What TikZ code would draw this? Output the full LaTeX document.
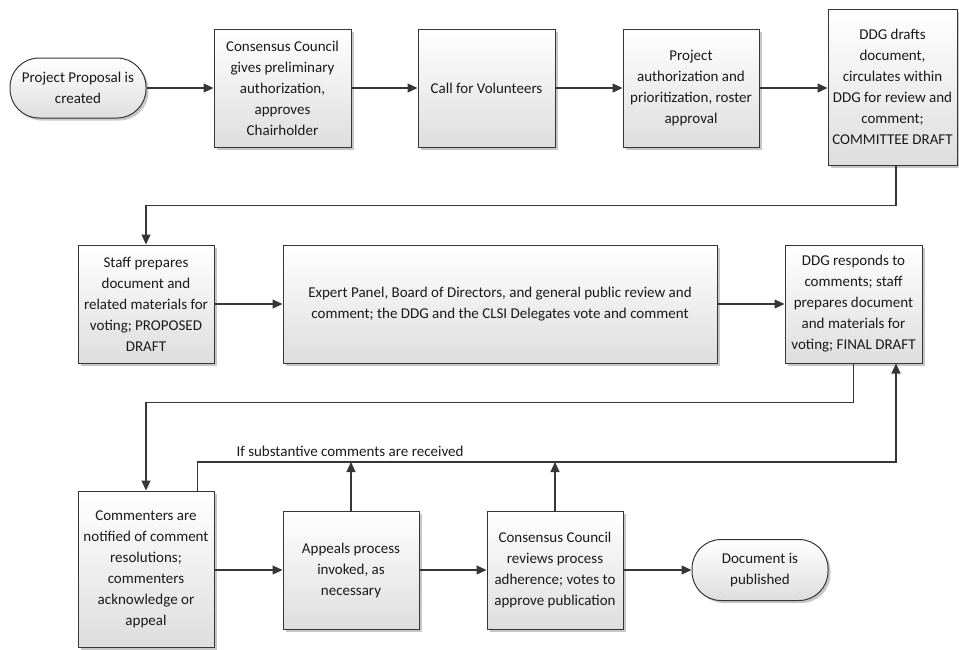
\documentclass[tikz,border=0pt]{standalone}
\usepackage{fontspec}
\setmainfont{Carlito}
\usetikzlibrary{arrows.meta,shadows,calc}
\definecolor{edge}{HTML}{363636}
\definecolor{ink}{HTML}{1A1A1A}
\begin{document}
\begin{tikzpicture}[x=1pt,y=-1pt,
  base/.style={draw=edge,line width=1pt,top color=white,bottom color=black!13,
    align=center,text=ink,font=\fontsize{15}{21}\selectfont,inner sep=2pt,
    drop shadow={shadow xshift=2.5pt,shadow yshift=-2.5pt,fill=black,opacity=0.22}},
  procbox/.style={base,rectangle},
  termbox/.style={base,rectangle,rounded corners=29pt},
  arr/.style={draw=edge,line width=1.2pt,-{Triangle[length=10pt,width=9pt]}}]
\useasboundingbox (0,0) rectangle (959,649);
% row 1
\node[termbox,minimum width=136pt,minimum height=60pt] (start) at (78,88) {Project Proposal is\\created};
\node[procbox,minimum width=137pt,minimum height=118pt] (cc1) at (282.5,88) {Consensus Council\\gives preliminary\\authorization,\\approves\\Chairholder};
\node[procbox,minimum width=137pt,minimum height=118pt] (cfv) at (486.5,88) {Call for Volunteers};
\node[procbox,minimum width=136pt,minimum height=118pt] (pa) at (691,88) {Project\\authorization and\\prioritization, roster\\approval};
\node[procbox,minimum width=129pt,minimum height=156pt] (ddg) at (892.5,87) {DDG drafts\\document,\\circulates within\\DDG for review and\\comment;\\COMMITTEE DRAFT};
% row 2
\node[procbox,minimum width=136pt,minimum height=118pt] (staff) at (146,304) {Staff prepares\\document and\\related materials for\\voting; PROPOSED\\DRAFT};
\node[procbox,minimum width=434pt,minimum height=118pt] (exp) at (500,304) {Expert Panel, Board of Directors, and general public review and\\comment; the DDG and the CLSI Delegates vote and comment};
\node[procbox,minimum width=137pt,minimum height=118pt] (resp) at (853.5,304) {DDG responds to\\comments; staff\\prepares document\\and materials for\\voting; FINAL DRAFT};
% row 3
\node[procbox,minimum width=136pt,minimum height=156pt] (comm) at (146,569) {Commenters are\\notified of comment\\resolutions;\\commenters\\acknowledge or\\appeal};
\node[procbox,minimum width=136pt,minimum height=118pt] (app) at (351,570) {Appeals process\\invoked, as\\necessary};
\node[procbox,minimum width=136pt,minimum height=118pt] (ccr) at (555,570) {Consensus Council\\reviews process\\adherence; votes to\\approve publication};
\node[termbox,minimum width=136pt,minimum height=61pt] (pub) at (760,570) {Document is\\published};
% connectors row 1
\draw[arr] (start.east) -- (cc1.west);
\draw[arr] (cc1.east) -- (cfv.west);
\draw[arr] (cfv.east) -- (pa.west);
\draw[arr] (pa.east) -- (pa.east -| ddg.west);
\draw[arr] ([xshift=3.5pt]ddg.south) -- ++(0,40) -| (staff.north);
% row 2
\draw[arr] (staff.east) -- (exp.west);
\draw[arr] (exp.east) -- (resp.west);
\draw[arr] (resp.south) -- ++(0,39) -| (comm.north);
% row 3
\coordinate (top) at (896,462);
\draw[arr] ([xshift=-17pt]comm.north east) |- (top) -- (top |- resp.south);
\node[font=\fontsize{15}{17}\selectfont,text=ink,inner sep=0pt] (lbl) at (350,451) {If substantive comments are received};
\draw[arr] (app.north) -- (app.north |- top);
\draw[arr] (ccr.north) -- (ccr.north |- top);
\draw[arr] (comm.east |- app.west) -- (app.west);
\draw[arr] (app.east) -- (ccr.west);
\draw[arr] (ccr.east) -- (pub.west);
\end{tikzpicture}
\end{document}
